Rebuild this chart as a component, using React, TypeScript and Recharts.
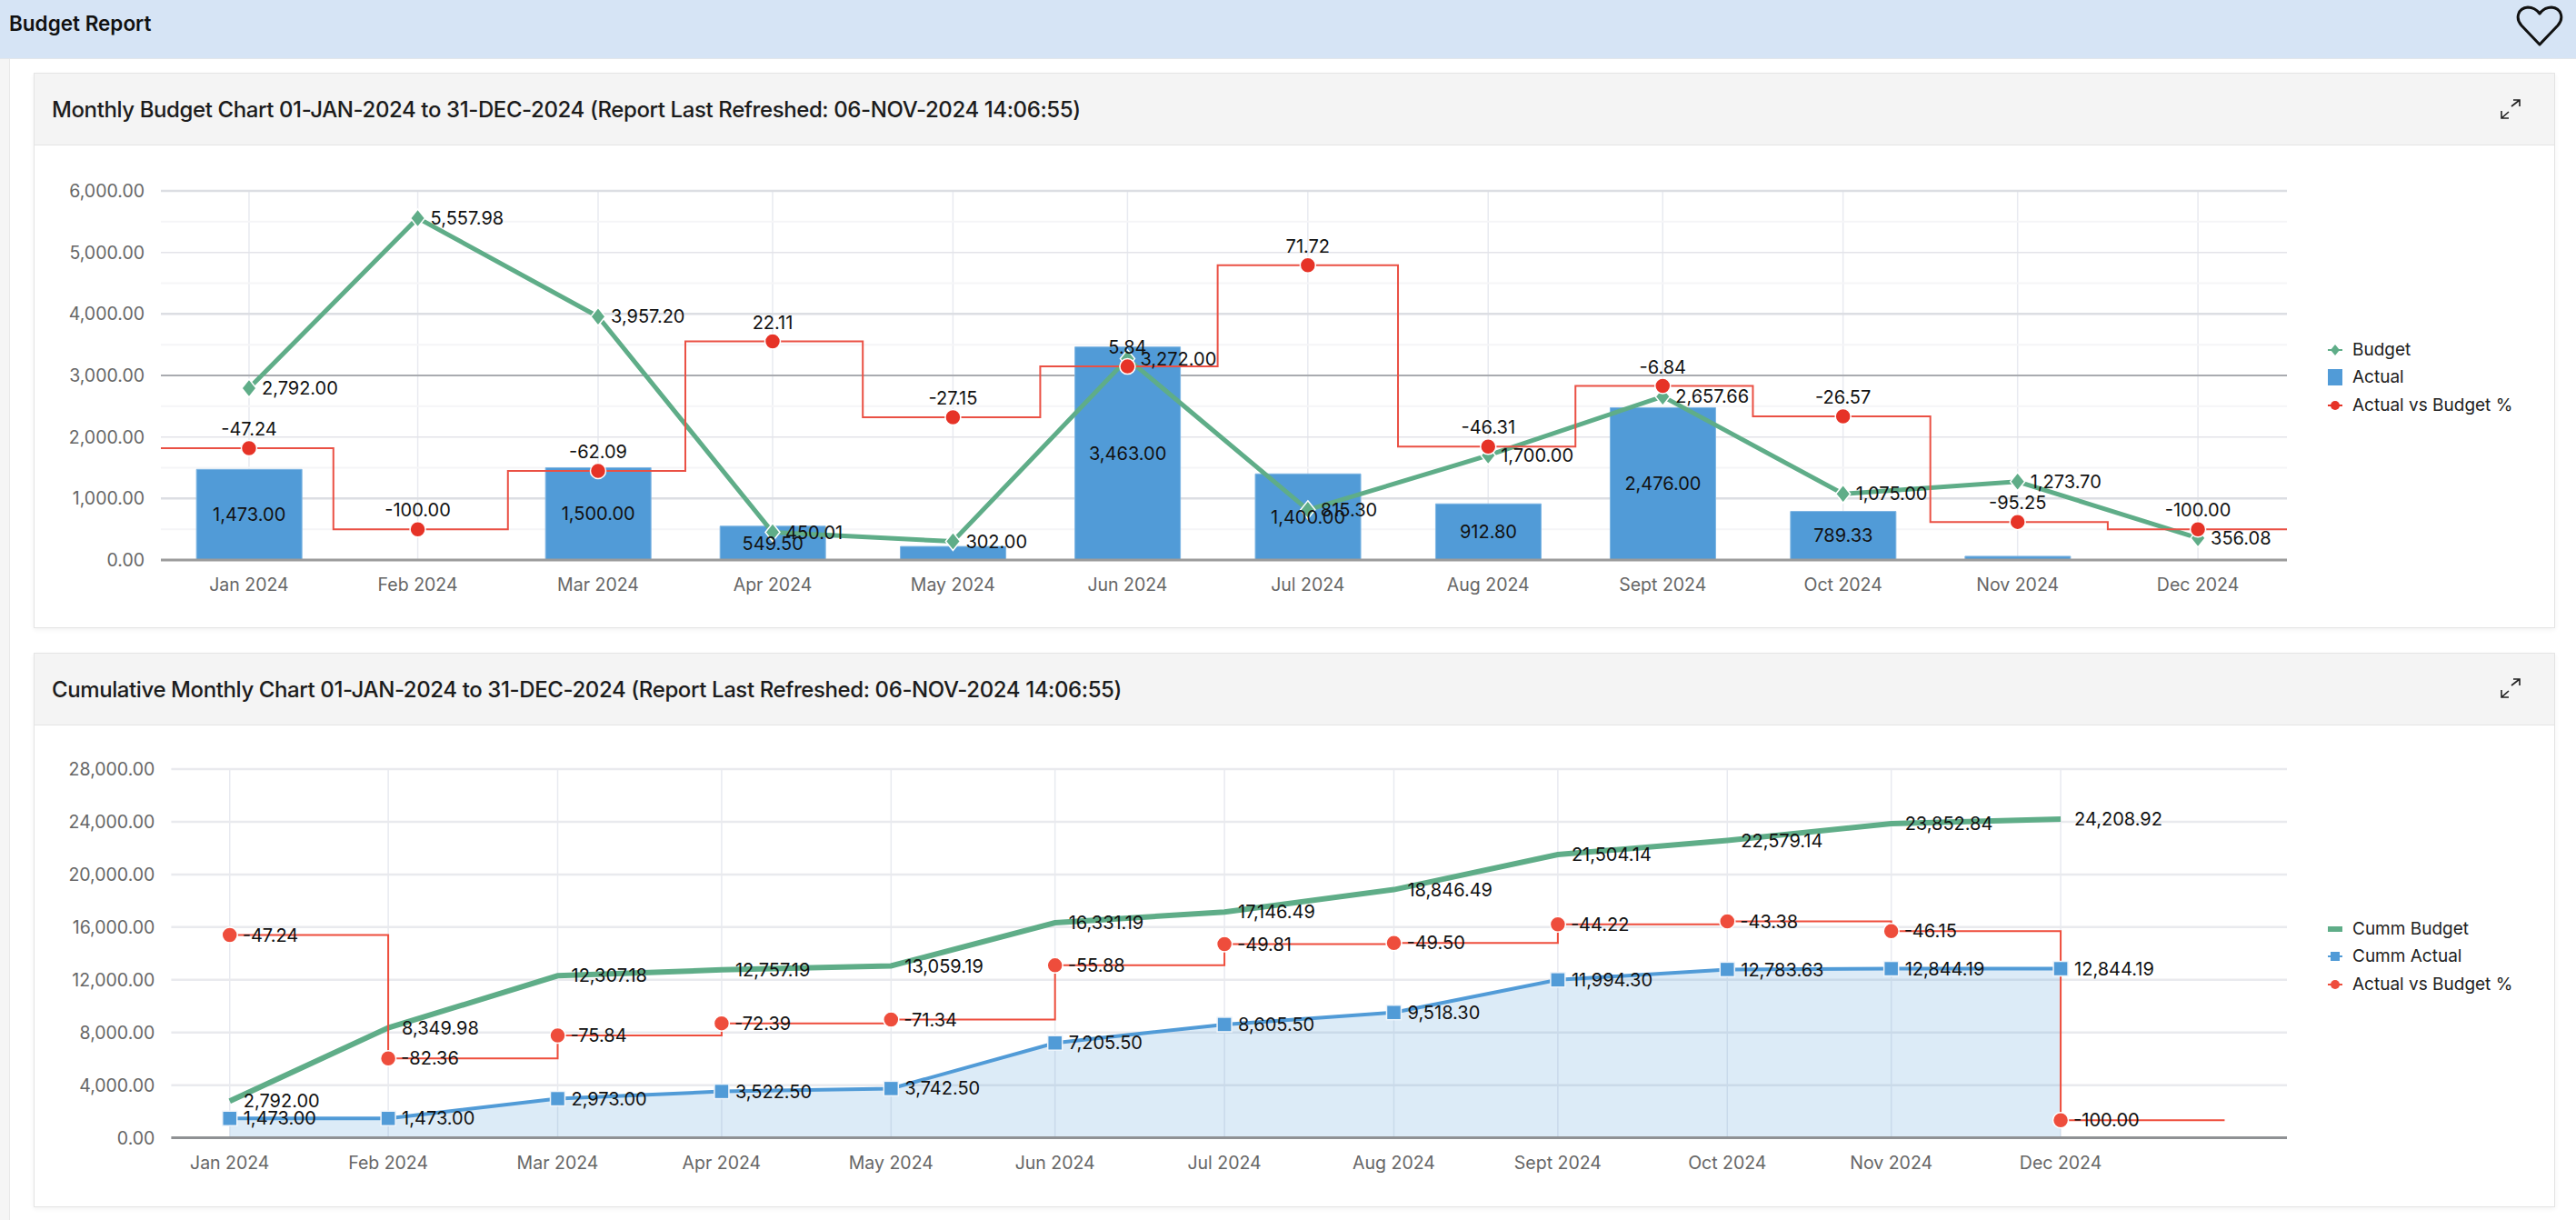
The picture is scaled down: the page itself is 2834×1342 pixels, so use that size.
import { Area, Bar, CartesianGrid, ComposedChart, LabelList, Line, XAxis, YAxis } from 'recharts';

const FONT = 'Inter, sans-serif';

const months = ['Jan 2024', 'Feb 2024', 'Mar 2024', 'Apr 2024', 'May 2024', 'Jun 2024', 'Jul 2024', 'Aug 2024', 'Sept 2024', 'Oct 2024', 'Nov 2024', 'Dec 2024'];
// both charts use a time axis, points sit on the last day of each month
const monthEndDays = [31, 60, 91, 121, 152, 182, 213, 244, 274, 305, 335, 366];

const budget = [2792, 5557.98, 3957.2, 450.01, 302, 3272, 815.3, 1700, 2657.66, 1075, 1273.7, 356.08];
const actual = [1473, 0, 1500, 549.5, 220, 3463, 1400, 912.8, 2476, 789.33, 60.56, 0];
const actualVsBudget = [-47.24, -100, -62.09, 22.11, -27.15, 5.84, 71.72, -46.31, -6.84, -26.57, -95.25, -100];

const cummBudget = [2792, 8349.98, 12307.18, 12757.19, 13059.19, 16331.19, 17146.49, 18846.49, 21504.14, 22579.14, 23852.84, 24208.92];
const cummActual = [1473, 1473, 2973, 3522.5, 3742.5, 7205.5, 8605.5, 9518.3, 11994.3, 12783.63, 12844.19, 12844.19];
const cummVsBudget = [-47.24, -82.36, -75.84, -72.39, -71.34, -55.88, -49.81, -49.5, -44.22, -43.38, -46.15, -100];

const monthlyTicks = [0, 1000, 2000, 3000, 4000, 5000, 6000];
const monthlyMinorTicks = [500, 1500, 2500, 3500, 4500, 5500];
const cummTicks = [0, 4000, 8000, 12000, 16000, 20000, 24000, 28000];

const monthlyDomain = [15.85, 381.3];
const cummDomain = [20.3, 407.4];
const cummTailDay = 396;
// the step line runs off both edges of the monthly plot, it gets clipped there
const monthlyLeadDay = 0;
const monthlyTrailDay = 397;

const GREEN = '#5fad88';
const BLUE = '#519bd7';
const RED = '#e63327';
const RED_LINE = '#ea5044';
const RED2 = '#ee4d3c';

const money = (v: any) =>
  v == null ? '' : Number(v).toLocaleString('en-US', { minimumFractionDigits: 2, maximumFractionDigits: 2 });

const monthlyRows: any[] = [
  { day: monthlyLeadDay, pct: actualVsBudget[0] },
  ...months.map((month, i) => ({
    day: monthEndDays[i],
    month,
    budget: budget[i],
    actual: actual[i],
    actualLabel: actual[i] >= 500 ? actual[i] : null,
    pct: actualVsBudget[i],
    pctLabel: actualVsBudget[i],
  })),
  { day: monthlyTrailDay, pct: actualVsBudget[11] },
];

const cummRows: any[] = [
  ...months.map((month, i) => ({
    day: monthEndDays[i],
    month,
    cummBudget: cummBudget[i],
    cummActual: cummActual[i],
    pct: cummVsBudget[i],
    pctLabel: cummVsBudget[i],
  })),
  { day: cummTailDay, pct: cummVsBudget[11] },
];

const dayLabel = (d: number) => months[monthEndDays.indexOf(d)] ?? '';

const Diamond = ({ cx, cy, payload }: any) => {
  if (cy == null || !payload.month) return <g key={`d-${cx}`} />;
  return (
    <polygon
      key={`d-${cx}`}
      points={`${cx},${cy - 10} ${cx + 8},${cy} ${cx},${cy + 10} ${cx - 8},${cy}`}
      fill={GREEN}
      stroke="#fff"
      strokeWidth={1.5}
    />
  );
};

const dotCircle = (color: string) => ({ cx, cy, payload }: any) => {
  if (cy == null || !payload.month) return <g key={`c-${cx}`} />;
  return <circle key={`c-${cx}`} cx={cx} cy={cy} r={8.5} fill={color} stroke="#fff" strokeWidth={1.5} />;
};

const Square = ({ cx, cy, payload }: any) => {
  if (cy == null || !payload.month) return <g key={`s-${cx}`} />;
  return <rect key={`s-${cx}`} x={cx - 8} y={cy - 8} width={16} height={16} fill={BLUE} stroke="#eef4fa" strokeWidth={1.5} />;
};

const labelStyle = { fill: '#111', fontSize: 20, fontFamily: FONT };
const tickStyle = { fill: '#666', fontSize: 19.5, fontFamily: FONT };

const Heart = () => (
  <svg width={56} height={48} viewBox="0 0 56 48" style={{ position: 'absolute', left: 2766, top: 6 }}>
    <path
      d="M28 43 L8 22 C1 14 4 3 15 2 C21 2 25 5 28 9 C31 5 35 2 41 2 C52 3 55 14 48 22 Z"
      fill="none"
      stroke="#111"
      strokeWidth={3}
      strokeLinejoin="round"
    />
  </svg>
);

const Expand = ({ top }: { top: number }) => (
  <svg width={24} height={24} viewBox="0 0 24 24" style={{ position: 'absolute', left: 2750, top }}>
    <path d="M13 9 L22 2 M15 2 H22 V9 M10 15 L2 22 M2 14 V22 H10" fill="none" stroke="#222" strokeWidth={1.6} />
  </svg>
);

const LegendMark = ({ kind, color }: { kind: string; color: string }) => (
  <svg width={18} height={18} style={{ position: 'absolute', left: 0, top: -9 }}>
    {kind === 'rect' && <rect x={0} y={0} width={16} height={18} fill={color} />}
    {kind === 'bar' && <rect x={0} y={6} width={16} height={6} fill={color} />}
    {kind !== 'rect' && kind !== 'bar' && <rect x={0} y={8} width={16} height={2} fill={color} />}
    {kind === 'diamond' && <polygon points="8,3 13,9 8,15 3,9" fill={color} />}
    {kind === 'circle' && <circle cx={8} cy={9} r={5} fill={color} />}
    {kind === 'square' && <rect x={3} y={4} width={10} height={10} fill={color} />}
  </svg>
);

const LegendBox = ({ items, top }: { items: any[]; top: number }) => (
  <div style={{ position: 'absolute', left: 2561, top, fontFamily: FONT, fontSize: 19, color: '#222' }}>
    {items.map((it) => (
      <div key={it.name} style={{ position: 'absolute', top: it.y, whiteSpace: 'nowrap' }}>
        <LegendMark kind={it.kind} color={it.color} />
        <span style={{ position: 'absolute', left: 27, top: -13, lineHeight: '26px' }}>{it.name}</span>
      </div>
    ))}
  </div>
);

const Card = ({ top, height, title, headerH }: any) => (
  <div
    style={{
      position: 'absolute',
      left: 37,
      top,
      width: 2774,
      height,
      boxSizing: 'border-box',
      background: '#fff',
      border: '1px solid #e4e4e4',
      boxShadow: '0 2px 5px rgba(0,0,0,0.05)',
    }}
  >
    <div
      style={{
        height: headerH,
        boxSizing: 'border-box',
        background: '#f4f4f4',
        borderBottom: '1px solid #e4e4e4',
        fontFamily: FONT,
        fontSize: 24,
        fontWeight: 500,
        color: '#1c1c1c',
        letterSpacing: -0.4,
        lineHeight: `${headerH}px`,
        paddingLeft: 19,
        whiteSpace: 'nowrap',
      }}
    >
      {title}
    </div>
  </div>
);

const MonthlyChart = () => (
  <div style={{ position: 'absolute', left: 0, top: 170 }}>
    <ComposedChart width={2811} height={500} data={monthlyRows} margin={{ top: 40, right: 295, bottom: 0, left: 0 }}>
      <CartesianGrid yAxisId="left" horizontal={false} verticalValues={monthEndDays} stroke="#e8eaf0" strokeWidth={1.5} />
      <CartesianGrid yAxisId="left" vertical={false} horizontalValues={monthlyMinorTicks} stroke="#f5f5f7" strokeWidth={2} />
      <CartesianGrid yAxisId="left" vertical={false} horizontalValues={[2000, 5000]} stroke="#e3e4e9" strokeWidth={1.5} />
      <CartesianGrid yAxisId="left" vertical={false} horizontalValues={[1000, 4000, 6000]} stroke="#dcdee3" strokeWidth={2.5} />
      <CartesianGrid yAxisId="left" vertical={false} horizontalValues={[3000]} stroke="#a9abb0" strokeWidth={2} />
      <XAxis
        dataKey="day"
        type="number"
        domain={monthlyDomain}
        allowDataOverflow
        ticks={monthEndDays}
        interval={0}
        tickFormatter={dayLabel}
        tick={tickStyle}
        tickLine={false}
        tickMargin={14}
        height={54}
        stroke="#9c9c9c"
        strokeWidth={3}
      />
      <YAxis
        yAxisId="left"
        domain={[0, 6000]}
        ticks={monthlyTicks}
        tickFormatter={money}
        tick={tickStyle}
        axisLine={false}
        tickLine={false}
        tickMargin={12}
        width={177}
      />
      <YAxis yAxisId="pct" orientation="right" hide domain={[-120, 120]} />
      <Bar yAxisId="left" dataKey="actual" fill={BLUE} stroke="#7fb6e3" strokeWidth={1} barSize={116} isAnimationActive={false}>
        <LabelList dataKey="actualLabel" position="center" formatter={money} style={labelStyle} />
      </Bar>
      <Line
        yAxisId="left"
        dataKey="budget"
        type="linear"
        stroke={GREEN}
        strokeWidth={5}
        dot={Diamond}
        isAnimationActive={false}
      >
        <LabelList dataKey="budget" position="right" offset={14} formatter={money} style={labelStyle} />
      </Line>
      <Line
        yAxisId="pct"
        dataKey="pct"
        type="step"
        stroke={RED_LINE}
        strokeWidth={2}
        dot={dotCircle(RED)}
        isAnimationActive={false}
      >
        <LabelList dataKey="pctLabel" position="top" offset={14} formatter={money} style={labelStyle} />
      </Line>
    </ComposedChart>
  </div>
);

const CummChart = () => (
  <div style={{ position: 'absolute', left: 0, top: 806 }}>
    <ComposedChart width={2811} height={500} data={cummRows} margin={{ top: 40, right: 295, bottom: 0, left: 0 }}>
      <CartesianGrid yAxisId="left" horizontal={false} verticalValues={monthEndDays} stroke="#e8eaf0" strokeWidth={1.5} />
      <CartesianGrid yAxisId="left" vertical={false} horizontalValues={cummTicks.slice(1)} stroke="#e9eaee" strokeWidth={2.5} />
      <XAxis
        dataKey="day"
        type="number"
        domain={cummDomain}
        ticks={monthEndDays}
        interval={0}
        tickFormatter={dayLabel}
        tick={tickStyle}
        tickLine={false}
        tickMargin={15}
        height={54.4}
        stroke="#8f9194"
        strokeWidth={3}
      />
      <YAxis
        yAxisId="left"
        domain={[0, 28000]}
        ticks={cummTicks}
        tickFormatter={money}
        tick={tickStyle}
        axisLine={false}
        tickLine={false}
        tickMargin={12}
        width={188.4}
      />
      <YAxis yAxisId="pct" orientation="right" hide domain={[-105, 0]} />
      <Area
        yAxisId="left"
        dataKey="cummActual"
        type="linear"
        stroke={BLUE}
        strokeWidth={4}
        fill={BLUE}
        fillOpacity={0.2}
        dot={Square}
        isAnimationActive={false}
      >
        <LabelList dataKey="cummActual" position="right" offset={15} formatter={money} style={labelStyle} />
      </Area>
      <Line
        yAxisId="left"
        dataKey="cummBudget"
        type="linear"
        stroke={GREEN}
        strokeWidth={6}
        dot={false}
        isAnimationActive={false}
      >
        <LabelList dataKey="cummBudget" position="right" offset={15} formatter={money} style={labelStyle} />
      </Line>
      <Line
        yAxisId="pct"
        dataKey="pct"
        type="stepAfter"
        stroke={RED2}
        strokeWidth={2}
        dot={dotCircle(RED2)}
        isAnimationActive={false}
      >
        <LabelList dataKey="pctLabel" position="right" offset={14} formatter={money} style={labelStyle} />
      </Line>
    </ComposedChart>
  </div>
);

const monthlyLegend = [
  { name: 'Budget', kind: 'diamond', color: GREEN, y: 0 },
  { name: 'Actual', kind: 'rect', color: BLUE, y: 30 },
  { name: 'Actual vs Budget %', kind: 'circle', color: RED, y: 61 },
];
const cummLegend = [
  { name: 'Cumm Budget', kind: 'bar', color: GREEN, y: 0 },
  { name: 'Cumm Actual', kind: 'square', color: BLUE, y: 30 },
  { name: 'Actual vs Budget %', kind: 'circle', color: RED2, y: 61 },
];

export default function App() {
  return (
    <div style={{ position: 'absolute', left: 0, top: 0, width: 2834, height: 1342, overflow: 'hidden', background: '#fff' }}>
      <div style={{ position: 'absolute', left: 0, top: 0, width: 10, height: 1342, background: '#f5f5f5', borderRight: '1px solid #e8e8e8' }} />
      <Card top={80} height={611} headerH={79} title="Monthly Budget Chart 01-JAN-2024 to 31-DEC-2024 (Report Last Refreshed: 06-NOV-2024 14:06:55)" />
      <Card top={718} height={610} headerH={79} title="Cumulative Monthly Chart 01-JAN-2024 to 31-DEC-2024 (Report Last Refreshed: 06-NOV-2024 14:06:55)" />
      <div
        style={{
          position: 'absolute',
          left: 0,
          top: 0,
          width: 2834,
          height: 65,
          boxSizing: 'border-box',
          background: '#d6e4f5',
          borderBottom: '1px solid #e3e6ea',
          fontFamily: FONT,
          fontSize: 22.5,
          fontWeight: 600,
          color: '#111',
          lineHeight: '52px',
          paddingLeft: 10,
        }}
      >
        Budget Report
      </div>
      <Heart />
      <Expand top={108} />
      <Expand top={745} />
      <MonthlyChart />
      <CummChart />
      <LegendBox items={monthlyLegend} top={385} />
      <LegendBox items={cummLegend} top={1022} />
    </div>
  );
}
